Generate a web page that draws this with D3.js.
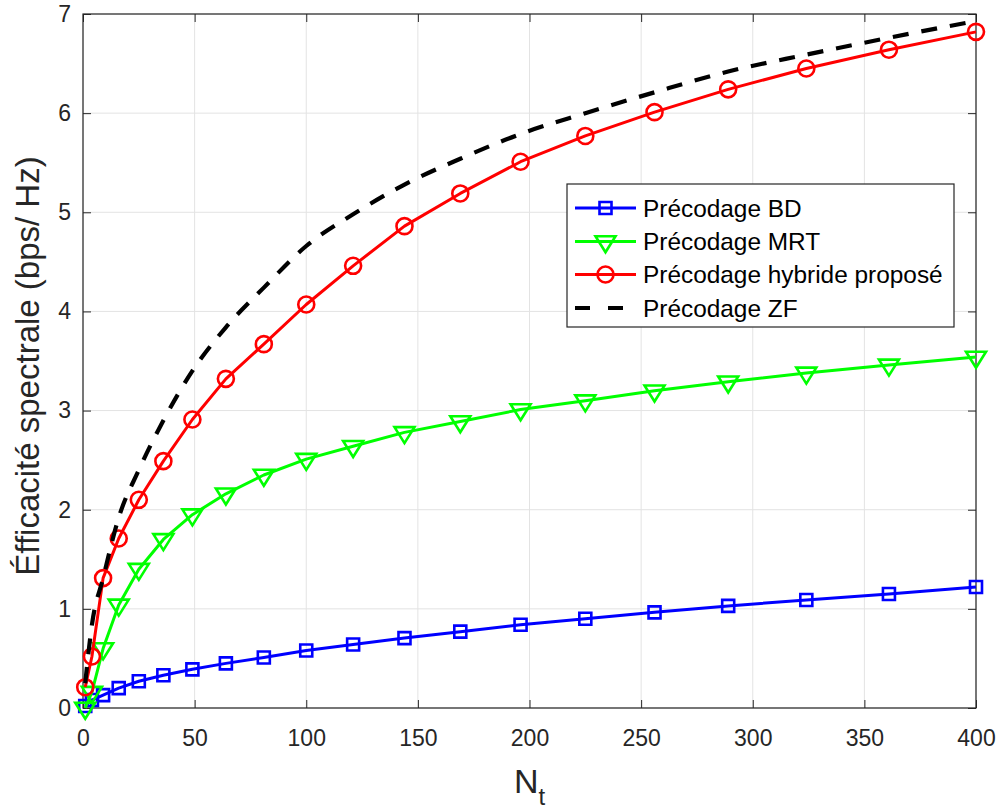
<!DOCTYPE html>
<html>
<head>
<meta charset="utf-8">
<script src="https://cdn.jsdelivr.net/npm/d3@7"></script>
<style>
  body { margin: 0; background: #fff; }
  svg { font-family: "Liberation Sans", Arial, Helvetica, sans-serif; }
</style>
</head>
<body>
<svg id="chart"></svg>
<script>
// data
const nt = [1, 4, 9, 16, 25, 36, 49, 64, 81, 100, 121, 144, 169, 196, 225, 256, 289, 324, 361, 400];
const bdValues = [0.02, 0.08, 0.13, 0.20, 0.27, 0.33, 0.39, 0.45, 0.51, 0.58, 0.64, 0.705, 0.77, 0.84, 0.90, 0.965, 1.03, 1.09, 1.15, 1.22];
const mrtValues = [0.0, 0.16, 0.60, 1.04, 1.40, 1.70, 1.95, 2.16, 2.35, 2.51, 2.64, 2.78, 2.89, 3.01, 3.10, 3.20, 3.29, 3.38, 3.46, 3.54];
const hybridValues = [0.21, 0.52, 1.31, 1.71, 2.10, 2.49, 2.91, 3.32, 3.67, 4.07, 4.46, 4.86, 5.19, 5.51, 5.77, 6.01, 6.24, 6.45, 6.64, 6.82];
const zfValues = [0.25, 0.84, 1.31, 1.92, 2.40, 2.90, 3.40, 3.84, 4.24, 4.66, 4.98, 5.28, 5.54, 5.79, 6.00, 6.21, 6.42, 6.59, 6.76, 6.93];

const seriesNames = ['Précodage BD', 'Précodage MRT', 'Précodage hybride proposé', 'Précodage ZF'];
const xTicks = [0, 50, 100, 150, 200, 250, 300, 350, 400];
const yTicks = [0, 1, 2, 3, 4, 5, 6, 7];

const WIDTH = 1003, HEIGHT = 809;
const MARGINS = {top: 14, bottom: 101, left: 83, right: 27};
const AXIS_COLOR = '#262626';

let svg = d3.select('#chart')
    .attr('width', WIDTH)
    .attr('height', HEIGHT);

const x = d3.scaleLinear().domain([0, 400]).range([MARGINS.left, WIDTH - MARGINS.right]);
const y = d3.scaleLinear().domain([0, 7]).range([HEIGHT - MARGINS.bottom, MARGINS.top]);

const x0 = x.range()[0], x1 = x.range()[1];
const y0 = y.range()[0], y1 = y.range()[1];

// grid
let grid = svg.append('g').attr('class', 'grid');
grid.selectAll('line.vx')
    .data(xTicks)
    .enter().append('line')
    .attr('x1', d => x(d)).attr('x2', d => x(d))
    .attr('y1', y0).attr('y2', y1)
    .style('stroke', '#e3e3e3').style('stroke-width', 1);
grid.selectAll('line.hy')
    .data(yTicks)
    .enter().append('line')
    .attr('x1', x0).attr('x2', x1)
    .attr('y1', d => y(d)).attr('y2', d => y(d))
    .style('stroke', '#e3e3e3').style('stroke-width', 1);

// axes (ticks pointing inwards, like matlab)
let xAxis = svg.append('g')
    .attr('transform', `translate(0,${y0})`)
    .call(d3.axisBottom(x).tickValues(xTicks).tickFormat(d3.format('d'))
        .tickSizeInner(-8).tickSizeOuter(0).tickPadding(22));
let yAxis = svg.append('g')
    .attr('transform', `translate(${x0},0)`)
    .call(d3.axisLeft(y).tickValues(yTicks).tickFormat(d3.format('d'))
        .tickSizeInner(-8).tickSizeOuter(0).tickPadding(12));
let xTop = svg.append('g')
    .attr('transform', `translate(0,${y1})`)
    .call(d3.axisTop(x).tickValues(xTicks).tickSizeInner(-8).tickSizeOuter(0).tickFormat(''));
let yRight = svg.append('g')
    .attr('transform', `translate(${x1},0)`)
    .call(d3.axisRight(y).tickValues(yTicks).tickSizeInner(-8).tickSizeOuter(0).tickFormat(''));

[xAxis, yAxis, xTop, yRight].forEach(a => {
    a.select('.domain').remove();
    a.selectAll('line').style('stroke', AXIS_COLOR).style('stroke-width', 1);
    a.selectAll('text').style('fill', AXIS_COLOR).style('font-size', '23px')
        .style('font-family', '"Liberation Sans", Arial, sans-serif');
});

// box
svg.append('rect')
    .attr('x', x0).attr('y', y1)
    .attr('width', x1 - x0).attr('height', y0 - y1)
    .style('fill', 'none').style('stroke', AXIS_COLOR).style('stroke-width', 1.2);

// series
function markerPath(shape) {
    if (shape === 'square') return 'M-6,-6H6V6H-6Z';
    if (shape === 'triangle') return 'M-10,-5.3L10,-5.3L0,10.7Z';
    return null;
}

function drawMarker(g, shape, color, cx, cy) {
    if (shape === 'circle') {
        g.append('circle').attr('cx', cx).attr('cy', cy).attr('r', 8)
            .style('fill', 'none').style('stroke', color).style('stroke-width', 2.6);
    } else if (shape) {
        g.append('path').attr('d', markerPath(shape))
            .attr('transform', `translate(${cx},${cy})`)
            .style('fill', 'none').style('stroke', color).style('stroke-width', 2.6)
            .style('stroke-linejoin', 'miter');
    }
}

const series = [
    {name: seriesNames[0], values: bdValues, color: '#0000ff', marker: 'square', dash: null},
    {name: seriesNames[1], values: mrtValues, color: '#00ff00', marker: 'triangle', dash: null},
    {name: seriesNames[2], values: hybridValues, color: '#ff0000', marker: 'circle', dash: null},
    {name: seriesNames[3], values: zfValues, color: '#000000', marker: null, dash: '16,13'}
];

let plot = svg.append('g').attr('class', 'plot');
series.forEach(s => {
    let pts = nt.map((n, i) => [n, s.values[i]]);
    let line = d3.line()
        .x(d => x(d[0]))
        .y(d => y(d[1]))
        .curve(s.dash ? d3.curveMonotoneX : d3.curveLinear);
    let g = plot.append('g');
    g.append('path')
        .attr('d', line(pts))
        .style('fill', 'none')
        .style('stroke', s.color)
        .style('stroke-width', s.dash ? 4.2 : 3)
        .style('stroke-dasharray', s.dash)
        .style('stroke-linejoin', 'round');
    if (s.marker) {
        pts.forEach(p => drawMarker(g, s.marker, s.color, x(p[0]), y(p[1])));
    }
});

// legend
let legend = svg.append('g').attr('class', 'legend');
legend.append('rect')
    .attr('x', 567).attr('y', 184)
    .attr('width', 387).attr('height', 143)
    .style('fill', 'white').style('stroke', AXIS_COLOR).style('stroke-width', 1.2);

const rowY = [208, 241.5, 274.5, 308];
series.forEach((s, i) => {
    let g = legend.append('g');
    g.append('line')
        .attr('x1', 575).attr('x2', 636)
        .attr('y1', rowY[i]).attr('y2', rowY[i])
        .style('stroke', s.color)
        .style('stroke-width', s.dash ? 4.2 : 3)
        .style('stroke-dasharray', s.dash ? '15,18' : null);
    if (s.marker) drawMarker(g, s.marker, s.color, 605.5, rowY[i]);
    g.append('text')
        .attr('x', 643).attr('y', rowY[i])
        .attr('dy', '0.36em')
        .style('font-size', '24.4px')
        .style('fill', '#000')
        .text(s.name);
});

// axis labels
svg.append('text')
    .attr('x', (x0 + x1) / 2)
    .attr('y', 793)
    .style('text-anchor', 'middle')
    .style('font-size', '34px')
    .style('fill', AXIS_COLOR)
    .html('N<tspan dy="12" style="font-size:24px">t</tspan>');

svg.append('text')
    .attr('transform', `translate(39,${(y0 + y1) / 2 + 5}) rotate(-90)`)
    .style('text-anchor', 'middle')
    .style('font-size', '33px')
    .style('fill', AXIS_COLOR)
    .text('Éfficacité spectrale (bps/ Hz)');
</script>
</body>
</html>
